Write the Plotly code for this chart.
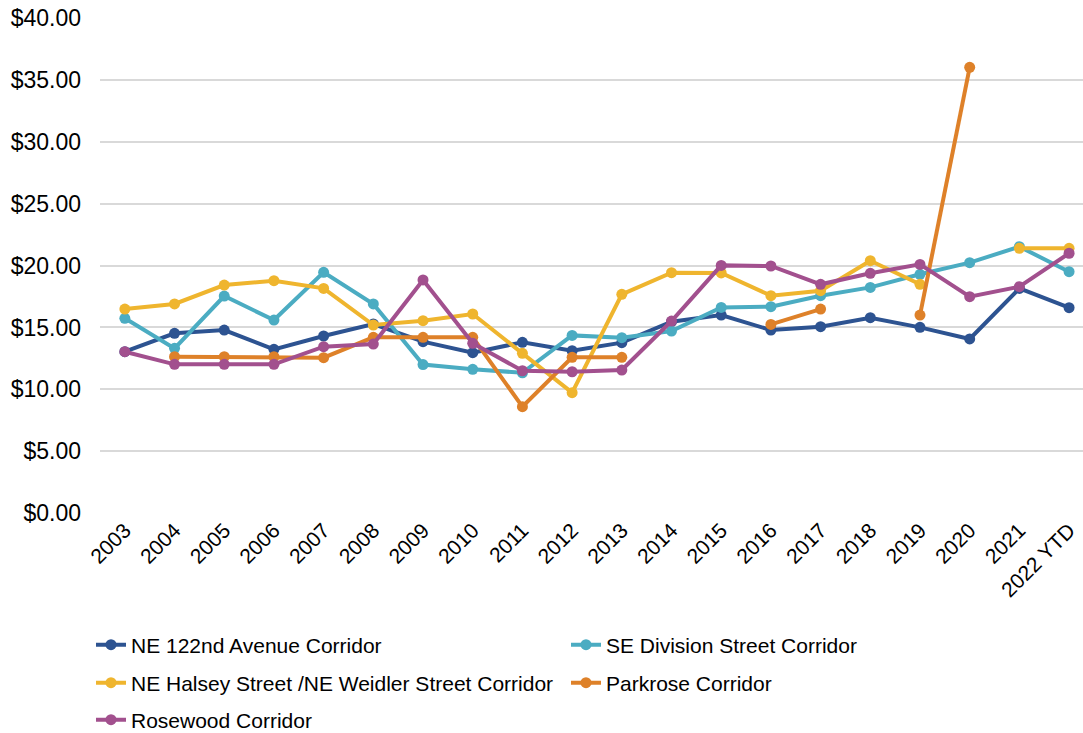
import plotly.graph_objects as go

categories = ["2003", "2004", "2005", "2006", "2007", "2008", "2009", "2010", "2011", "2012",
              "2013", "2014", "2015", "2016", "2017", "2018", "2019", "2020", "2021", "2022 YTD"]

ne_122nd = [13.04, 14.53, 14.79, 13.23, 14.31, 15.28, 13.85, 12.96, 13.80, 13.12,
            13.77, 15.47, 16.00, 14.79, 15.06, 15.79, 15.01, 14.07, 18.16, 16.60]
se_division = [15.74, 13.31, 17.54, 15.60, 19.46, 16.90, 12.00, 11.62, 11.34, 14.36,
               14.17, 14.71, 16.62, 16.68, 17.57, 18.24, 19.30, 20.24, 21.53, 19.51]
ne_halsey = [16.49, 16.90, 18.43, 18.78, 18.16, 15.20, 15.55, 16.09, 12.91, 9.73,
             17.68, 19.43, 19.41, 17.57, 17.97, 20.40, 18.49, None, 21.40, 21.40]
parkrose = [None, 12.64, 12.64, 12.64, 12.56, 14.20, 14.20, 14.20, 8.60, 12.59,
            12.59, None, None, 15.25, 16.49, None, 16.00, 36.03, None, None]
rosewood = [13.04, 12.02, 12.02, 12.02, 13.45, 13.66, 18.84, 13.72, 11.50, 11.42,
            11.56, 15.52, 20.02, 19.97, 18.49, 19.38, 20.10, 17.49, 18.30, 21.00]

y_ticks = [0, 5, 10, 15, 20, 25, 30, 35, 40]
y_tick_labels = ["$0.00", "$5.00", "$10.00", "$15.00", "$20.00", "$25.00", "$30.00", "$35.00", "$40.00"]

series = [
    ("NE 122nd Avenue Corridor", ne_122nd, "#2D5391"),
    ("SE Division Street Corridor", se_division, "#4BACC2"),
    ("NE Halsey Street /NE Weidler Street Corridor", ne_halsey, "#EFB52E"),
    ("Parkrose Corridor", parkrose, "#DE8129"),
    ("Rosewood Corridor", rosewood, "#A2508E"),
]

# body margin removed via post_script, so figure coordinates = page coordinates
W, H = 1083, 733
L, R, T = 100, 0, 18
BOTTOM_Y = 513  # y of the $0 line in pixels
B = H - BOTTOM_Y
plot_w = W - L - R
plot_h = H - T - B

def px_to_paper(px, py):
    return (px - L) / plot_w, (H - B - py) / plot_h

# legend positions (pixels) for each entry
legend_pos = [(91, 645), (566, 645), (91, 683), (566, 683), (91, 720)]
legend_names = ["legend", "legend2", "legend3", "legend4", "legend5"]

fig = go.Figure()
for (name, vals, color), lname in zip(series, legend_names):
    fig.add_trace(go.Scatter(
        x=categories, y=vals, name=name, mode="lines+markers",
        line=dict(color=color, width=4),
        marker=dict(color=color, size=11),
        connectgaps=False, cliponaxis=False, legend=lname,
    ))

layout_legends = {}
for lname, (px, py) in zip(legend_names, legend_pos):
    lx, ly = px_to_paper(px, py)
    layout_legends[lname] = dict(
        x=lx, y=ly, xanchor="left", yanchor="middle",
        font=dict(family="Liberation Sans, Arial, sans-serif", size=21, color="#000000"),
        bgcolor="rgba(0,0,0,0)", borderwidth=0,
    )

fig.update_layout(
    width=W, height=H,
    margin=dict(l=L, r=R, t=T, b=B, autoexpand=False),
    paper_bgcolor="white", plot_bgcolor="white",
    font=dict(family="Liberation Sans, Arial, sans-serif", color="#000000"),
    showlegend=True,
    xaxis=dict(
        type="category", range=[-0.5, 19.28], tickangle=-45,
        showgrid=False, showline=False, zeroline=False, ticks="",
        tickfont=dict(size=21, color="#000000"),
    ),
    yaxis=dict(
        range=[0, 40.02], tickmode="array", tickvals=y_ticks, ticktext=y_tick_labels,
        showgrid=True, gridcolor="#D9D9D9", gridwidth=1.5,
        zeroline=False, showline=False, ticks="",
        tickfont=dict(size=23, color="#000000"),
        ticklabelstandoff=18,
    ),
    **layout_legends,
)

fig.write_html("out.html", config={"displayModeBar": False},
               post_script="document.body.style.margin='0';")
